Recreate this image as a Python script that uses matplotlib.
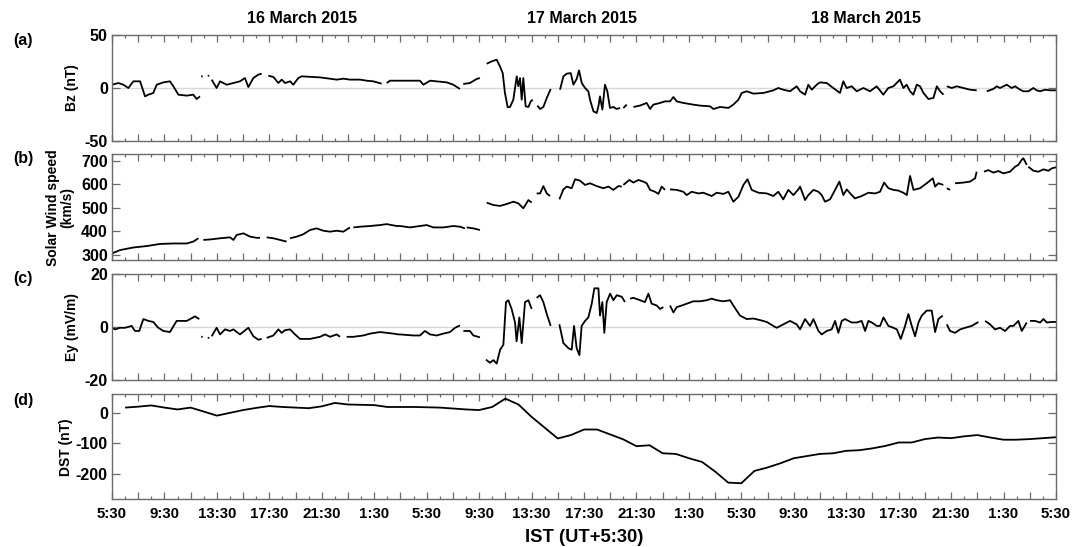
import numpy as np
import matplotlib
matplotlib.use("Agg")
import matplotlib.pyplot as plt
from matplotlib.ticker import MultipleLocator

plt.rcParams['font.family'] = ['Liberation Sans', 'DejaVu Sans']
plt.rcParams['font.weight'] = 'bold'
plt.rcParams['axes.unicode_minus'] = False

nan = np.nan

# Time axis: hours since 16 March 2015, 05:30 IST.  NaN marks a data gap.
bz_hours = [
    0.00, 0.48, 0.86, 1.25, 1.63, 2.14, 2.52, 2.77, 3.15, 3.41, 3.92, 4.42, 4.68, 5.06, 5.70, 6.20, 6.46, 6.71, nan,
    6.80, 6.92, nan, 7.30, 7.42, nan,
    7.60, 7.98, 8.24, 8.75, 9.26, 9.76, 10.14, 10.40, 10.78, 11.16, 11.42, nan,
    11.92, 12.31, 12.69, 12.94, 13.20, 13.58, 13.83, 14.21, 14.47, 15.36, 15.87, 16.63, 17.14, 17.65, 18.15, 18.92, 19.43, 19.93, 20.57, nan,
    20.95, 21.21, 21.97, 22.73, 23.49, 23.75, 24.26, 24.76, 25.53, 26.03, 26.54, nan,
    26.79, 27.30, 27.81, 28.06, nan,
    28.58, 28.96, 29.34, 29.59, 29.80, 29.97, 30.18, 30.36, 30.61, 30.87, 30.99, 31.12, 31.25, 31.37, 31.55, 31.76, 31.94, 32.09, nan,
    32.44, 32.65, 32.90, 33.16, 33.46, nan,
    34.17, 34.43, 34.68, 34.99, 35.19, 35.44, 35.62, 35.83, 36.08, 36.33, 36.46, 36.72, 36.97, 37.10, 37.22, 37.40, 37.60, 37.78, 37.98, 38.24, 38.49, 38.75, nan,
    39.00, 39.26, nan,
    39.77, 40.27, 40.78, 41.04, 41.29, 41.80, 42.18, 42.56, 42.82, 43.07,
    43.58, 44.34, 44.85, 45.62, 45.87, 46.38, 47.01, 47.39, 47.78, 48.03,
    48.41, 48.92, 49.68, 50.44, 50.82, 51.20, 51.71, 52.22, 52.48, 52.86,
    53.11, 53.37, 53.75, 54.00, 54.51, 55.02, 55.52, 55.78, 56.03, 56.42,
    56.80, 57.31, 57.82, 58.32, 58.83, 59.21, 59.60, 59.85, 60.10, 60.36,
    60.61, 60.87, 61.12, 61.38, 61.63, 61.89, 62.27, 62.65, 62.91, 63.16, 63.42, nan,
    63.67, 64.05, 64.43, 64.94, 65.44, 65.95, nan,
    66.72, 67.22, 67.48, 67.73, 68.24, 68.62, 68.88, 69.26, 69.51, 69.90, 70.27, 70.53, 70.78, 71.17, 71.55, 72.00,
]
bz_nT = [
    3.1, 4.7, 3.1, 0.0, 6.3, 6.3, -7.9, -6.3, -4.7, 3.1, 5.3, 6.3, 1.6, -6.3, -7.2, -6.3, -10.4, -7.9, nan,
    11.0, 11.0, nan, 11.6, 11.6, nan,
    7.9, 0.0, 6.3, 3.1, 4.7, 6.3, 9.4, 0.9, 9.4, 12.6, 13.5, nan,
    11.6, 10.4, 4.7, 7.9, 4.7, 6.3, 3.1, 9.4, 11.0, 10.4, 10.0, 8.8, 7.9, 8.8, 7.9, 7.9, 6.9, 6.3, 4.1, nan,
    4.7, 6.9, 6.9, 6.9, 6.9, 3.1, 6.9, 6.3, 5.3, 3.1, -0.9, nan,
    3.8, 4.7, 8.5, 9.4, nan,
    22.9, 25.1, 26.7, 20.4, 14.1, -4.7, -18.2, -17.9, -11.0, 11.0, 1.6, 9.4, -11.0, 9.4, -17.3, -17.9, -12.6, -11.0, nan,
    -16.6, -19.8, -17.9, -9.4, -0.9, nan,
    -1.6, 11.0, 13.5, 14.1, 3.1, 8.5, 16.6, 4.7, 0.0, -3.1, -11.0, -22.0, -23.6, -17.3, -7.9, -20.4, 3.1, -3.1, -18.8, -17.9, -19.8, -18.8, nan,
    -18.8, -15.7, nan,
    -17.9, -16.6, -14.1, -19.8, -15.7, -14.1, -12.6, -12.6, -8.5, -12.6,
    -14.1, -15.7, -16.6, -17.3, -19.8, -17.9, -18.8, -15.7, -11.0, -4.7,
    -3.1, -5.3, -4.7, -2.2, 0.0, -1.6, -3.1, 1.6, -3.1, -6.3,
    3.1, -1.6, 3.1, 5.3, 4.7, 0.0, -4.7, 6.3, 0.0, 1.6,
    -3.1, 0.0, -3.1, 1.6, -6.3, 0.0, 1.6, 4.7, 7.9, 0.0,
    3.1, -3.1, -6.3, 3.1, 1.6, -4.7, -10.4, -9.4, 1.6, -3.1, -6.3, nan,
    1.6, 0.0, 1.6, 0.0, -1.6, -2.2, nan,
    -3.1, -0.9, 1.6, 0.0, 3.1, 0.0, 1.6, -1.6, -3.1, -3.1, 0.0, -2.2, -3.1, -1.6, -2.2, -2.2,
]

sw_hours = [
    0.00, 0.61, 1.63, 2.64, 3.66, 4.68, 5.70, 6.20, 6.59, nan,
    6.97, 7.48, 8.24, 9.00, 9.26, 9.51, 10.02, 10.53, 11.03, 11.29, nan,
    11.80, 12.31, 12.81, 13.32, nan,
    13.58, 14.09, 14.59, 15.10, 15.61, 16.12, 16.63, 17.14, 17.65, 18.15, nan,
    18.41, 18.92, 19.68, 20.44, 20.95, 21.33, 21.71, 21.97, 22.73, 23.49, 24.00, 24.51, 25.27, 26.03, 26.54, 26.92, nan,
    27.05, 27.56, 28.06, nan,
    28.58, 29.08, 29.59, 30.10, 30.61, 30.99, 31.37, 31.76, 32.01, nan,
    32.39, 32.65, 32.90, 33.16, 33.41, nan,
    34.12, 34.43, 34.68, 35.06, 35.32, 35.70, 36.08, 36.46, 36.97, 37.48, 37.86, 38.24, 38.62, 38.88, nan,
    39.00, 39.46, 39.77, 40.15, 40.53, 40.78, 41.04, 41.42, 41.67, 41.93, 42.18, nan,
    42.56, 43.07, 43.58, 43.83, 44.21, 44.72, 45.10, 45.74, 46.12, 46.63,
    47.01, 47.39, 47.78, 48.16, 48.47, 48.79, 49.30, 49.94, 50.44, 50.82,
    51.20, 51.58, 51.97, 52.35, 52.48, 52.86, 53.11, 53.50, 53.88, 54.13,
    54.38, 54.77, 55.15, 55.48, 55.78, 56.04, 56.42, 56.67, 57.18, 57.69,
    58.20, 58.58, 58.89, 59.22, 59.60, 59.98, 60.36, 60.62, 60.87, 61.13,
    61.63, 62.14, 62.60, 62.78, 63.03, 63.41, nan,
    63.67, 63.92, nan,
    64.30, 64.94, 65.44, 65.83, 65.95, nan,
    66.51, 66.84, 67.22, 67.60, 67.99, 68.49, 68.88, 69.13, 69.38, 69.51, 69.77, nan,
    69.89, 70.28, 70.66, 71.04, 71.42, 71.68, 72.00,
]
sw_kms = [
    307, 321, 332, 338, 347, 349, 349, 357, 371, nan,
    364, 366, 371, 375, 364, 385, 392, 378, 373, 373, nan,
    375, 371, 364, 357, nan,
    371, 378, 388, 406, 413, 403, 399, 403, 399, 417, nan,
    417, 420, 423, 427, 431, 427, 423, 423, 417, 423, 427, 417, 417, 423, 420, 413, nan,
    417, 413, 406, nan,
    522, 512, 508, 516, 526, 519, 498, 533, 522, nan,
    561, 561, 592, 561, 550, nan,
    536, 578, 590, 583, 621, 615, 597, 604, 592, 583, 590, 576, 592, 590, nan,
    597, 618, 607, 618, 611, 604, 576, 568, 559, 590, 576, nan,
    578, 576, 568, 554, 568, 561, 564, 550, 564, 559,
    568, 526, 547, 597, 621, 576, 564, 561, 550, 568,
    536, 576, 554, 578, 590, 533, 554, 576, 568, 554,
    526, 536, 576, 611, 554, 578, 554, 540, 550, 564,
    561, 568, 607, 583, 576, 573, 564, 554, 635, 576,
    583, 604, 625, 590, 604, 597, nan,
    583, 576, nan,
    604, 607, 611, 625, 653, nan,
    653, 660, 649, 656, 646, 653, 674, 682, 703, 710, 682, nan,
    674, 657, 653, 663, 657, 667, 672,
]

ey_hours = [
    0.00, 0.23, 0.61, 0.99, 1.50, 1.75, 2.08, 2.39, 2.77, 3.15, 3.53, 3.92, 4.42, 4.93, 5.70, 6.33, 6.66, nan,
    6.80, 6.92, nan, 7.30, 7.42, nan,
    7.60, 7.98, 8.24, 8.62, 9.00, 9.26, 9.76, 10.40, 10.78, 11.16, 11.42, nan,
    11.80, 12.31, 12.69, 12.94, 13.20, 13.58, 13.96, 14.34, 15.10, 15.87, 16.25, 16.63, 17.14, 17.39, nan,
    17.90, 18.41, 19.17, 19.68, 20.44, 20.95, 21.46, 21.84, 21.97, 22.98,
    23.49, 23.87, 24.26, 24.76, 25.27, 25.78, 26.16, 26.54, nan,
    26.80, 27.30, 27.56, 28.06, nan,
    28.52, 28.83, 29.09, 29.34, 29.60, 29.85, 30.05, 30.23, 30.48, 30.74, 30.86, 31.07, 31.25, 31.50, 31.76, 32.01, nan,
    32.39, 32.65, 32.90, 33.16, 33.46, nan,
    34.12, 34.43, 34.81, 35.06, 35.24, 35.44, 35.65, 35.82, 36.08, 36.33,
    36.59, 36.79, 37.10, 37.22, 37.40, 37.55, 37.73, 37.99, 38.24, 38.50,
    38.88, 39.13, nan,
    39.51, 39.77, 40.28, 40.65, 40.91, 41.16, 41.55, 41.80, 42.05, nan,
    42.56, 42.82, 43.07, 43.45, 43.83, 44.34, 44.85, 45.36, 45.74, 46.12,
    46.63, 47.14, 47.39, 47.90, 48.41, 48.92, 49.43, 49.94, 50.44, 50.70,
    51.20, 51.71, 52.22, 52.48, 52.86, 53.24, 53.50, 53.88, 54.13, 54.51,
    54.89, 55.15, 55.40, 55.66, 55.91, 56.17, 56.42, 56.80, 57.18, 57.44,
    57.69, 57.95, 58.33, 58.58, 58.84, 59.22, 59.60, 59.86, 60.16, 60.49,
    60.74, 61.00, 61.25, 61.51, 61.76, 62.14, 62.52, 62.78, 63.03, 63.36, nan,
    63.67, 63.92, 64.30, 64.69, 65.07, 65.57, 66.08, nan,
    66.59, 66.97, 67.35, 67.73, 68.12, 68.49, 68.75, 69.13, 69.39, 69.77, nan,
    70.02, 70.40, 70.79, 71.04, 71.30, 71.68, 72.00,
]
ey_mVm = [
    -0.3, -0.9, -0.3, -0.3, 0.4, -1.5, -1.5, 3.0, 2.3, 1.9, -0.3, -1.5, -1.9, 2.3, 2.3, 4.0, 3.0, nan,
    -3.7, -3.7, nan, -4.1, -4.1, nan,
    -3.5, -0.3, -2.8, -0.9, -1.5, -0.9, -2.8, -0.3, -3.5, -4.8, -4.5, nan,
    -4.1, -3.2, -0.9, -2.2, -1.2, -0.9, -2.8, -4.5, -4.5, -3.7, -2.8, -3.7, -2.8, -3.7, nan,
    -3.7, -3.7, -3.2, -2.5, -1.9, -2.2, -2.5, -2.8, -2.8, -3.2,
    -3.2, -1.5, -2.8, -3.2, -2.5, -1.9, -0.3, 0.6, nan,
    -1.5, -1.5, -3.2, -3.9, nan,
    -12.3, -13.5, -12.5, -13.8, -8.6, -6.7, 9.4, 10.1, 6.8, 1.7, -5.4, 3.6, -6.1, 9.4, 10.1, 6.8, nan,
    11.0, 12.0, 9.4, 4.9, 0.4, nan,
    1.0, -6.1, -8.0, -8.6, 0.4, -8.0, -10.6, 0.4, 2.3, 3.6,
    8.8, 14.6, 14.6, 4.3, 9.4, -2.2, 9.4, 12.6, 10.1, 12.0,
    11.4, 9.4, nan,
    10.7, 11.0, 10.1, 9.4, 12.6, 8.8, 8.1, 6.8, 7.5, nan,
    8.1, 5.5, 7.5, 8.1, 8.8, 9.7, 9.7, 10.1, 10.7, 10.1,
    9.7, 10.1, 8.1, 4.3, 3.0, 3.2, 2.6, 1.9, 0.4, -0.3,
    1.0, 2.3, 1.0, -0.9, 3.0, 0.4, 3.0, -1.5, -2.8, -1.5,
    -0.9, 2.3, -2.2, 2.3, 3.0, 2.3, 1.7, 1.7, 2.3, -1.5,
    2.3, 1.7, 0.4, 0.4, 3.6, 0.4, -0.3, -0.9, -4.5, 0.4,
    4.9, 0.4, -3.5, 1.7, 4.3, 6.2, 6.2, -1.9, 3.0, 4.3, nan,
    1.0, -1.5, -2.2, -0.9, -0.3, 0.4, 1.9, nan,
    2.3, 1.0, -0.9, -0.3, -1.5, 0.4, 0.4, 2.3, -1.5, 1.7, nan,
    2.3, 2.3, 1.7, 3.0, 1.7, 1.9, 1.9,
]

# Hourly Dst index
dst_hours = list(range(1, 73))
dst_nT = [
    16, 19, 23, 16, 10, 16, 3, -10, -1, 8, 15, 21, 18, 16, 14, 20, 31, 26, 25, 24, 18, 18, 18, 17,
    16, 13, 10, 8, 18, 45, 26, -14, -49, -84, -73, -55, -55, -71, -87, -109, -106, -132, -134, -148,
    -160, -191, -227, -229, -189, -178, -164, -148, -141, -134, -132, -124, -122, -116, -108, -97,
    -97, -86, -81, -83, -77, -73, -81, -88, -88, -86, -83, -80,
]

tick_hours = list(range(0, 73, 4))
tick_labels = ["5:30", "9:30", "13:30", "17:30", "21:30", "1:30"] * 3 + ["5:30"]
day_titles = ["16 March 2015", "17 March 2015", "18 March 2015"]
panel_tags = ["(a)", "(b)", "(c)", "(d)"]

W, H = 1087, 547
fig = plt.figure(figsize=(W / 100, H / 100), dpi=100)


def axes_px(left, top, right, bottom):
    return fig.add_axes([left / W, 1 - bottom / H, (right - left) / W, (bottom - top) / H])


def fig_text(x, y, s, **kw):
    return fig.text(x / W, 1 - y / H, s, **kw)


spine_col = '#6a6a6a'
ax_a = axes_px(112, 35, 1056, 141)
ax_b = axes_px(112, 154, 1056, 260)
ax_c = axes_px(112, 274, 1056, 380)
ax_d = axes_px(112, 394, 1056, 499)
axes = [ax_a, ax_b, ax_c, ax_d]

for ax in axes:
    ax.set_xlim(0, 72)
    for sp in ax.spines.values():
        sp.set_color(spine_col)
        sp.set_linewidth(1.0)
    ax.xaxis.set_major_locator(MultipleLocator(2))
    ax.xaxis.set_minor_locator(MultipleLocator(1))
    ax.tick_params(axis='x', which='major', direction='in', top=True, bottom=True,
                   length=4.8, width=0.9, color=spine_col, labelbottom=False)
    ax.tick_params(axis='x', which='minor', direction='in', top=True, bottom=True,
                   length=2.4, width=0.9, color=spine_col)
    ax.tick_params(axis='y', which='major', direction='in', left=True, right=True,
                   length=5.5, width=0.9, color=spine_col, labelsize=11.5, pad=3)

line_kw = dict(color='black', lw=1.3, solid_joinstyle='round', solid_capstyle='butt')

# (a) IMF Bz
ax_a.axhline(0, color='#d8d8d8', lw=1.0, zorder=0.5)
ax_a.plot(bz_hours, bz_nT, **line_kw)
ax_a.set_ylim(-50, 50)
ax_a.set_yticks([-50, 0, 50])

# (b) Solar wind speed
ax_b.plot(sw_hours, sw_kms, **line_kw)
ax_b.set_ylim(279, 728)
ax_b.set_yticks([300, 400, 500, 600, 700])

# (c) Ey
ax_c.axhline(0, color='#d8d8d8', lw=1.0, zorder=0.5)
ax_c.plot(ey_hours, ey_mVm, **line_kw)
ax_c.set_ylim(-20, 20)
ax_c.set_yticks([-20, 0, 20])

# (d) Dst
ax_d.plot(dst_hours, dst_nT, **line_kw)
ax_d.set_ylim(-280, 60)
ax_d.set_yticks([-200, -100, 0])

# Labelled x ticks on the bottom panel only
major_pos = list(range(0, 73, 2))
major_lab = [tick_labels[tick_hours.index(h)] if h in tick_hours else '' for h in major_pos]
ax_d.set_xticks(major_pos)
ax_d.set_xticklabels(major_lab, fontsize=10.8, fontweight='bold')
ax_d.tick_params(axis='x', which='major', labelbottom=True, pad=6)

for ax in axes:
    for lab in ax.get_yticklabels():
        lab.set_fontweight('bold')
        lab.set_fontsize(11.5)

# Annotations
for title, xc in zip(day_titles, [302, 582, 866]):
    fig_text(xc, 18.5, title, ha='center', va='center', fontsize=11.5, fontweight='bold')

for tag, yc in zip(panel_tags, [40, 158, 279, 400]):
    fig_text(13, yc, tag, ha='left', va='center', fontsize=11.5, fontweight='bold')

fig_text(72, 88, "Bz (nT)", rotation=90, ha='center', va='center', fontsize=10, fontweight='bold')
fig_text(60, 208, "Solar Wind speed\n(km/s)", rotation=90, ha='center', va='center',
         fontsize=10, fontweight='bold', linespacing=1.05)
fig_text(72, 327, "Ey (mV/m)", rotation=90, ha='center', va='center', fontsize=10, fontweight='bold')
fig_text(66, 447, "DST (nT)", rotation=90, ha='center', va='center', fontsize=10, fontweight='bold')

fig_text(584, 537, "IST (UT+5:30)", ha='center', va='center', fontsize=13.2, fontweight='bold')

fig.savefig("out.png", dpi=100)
